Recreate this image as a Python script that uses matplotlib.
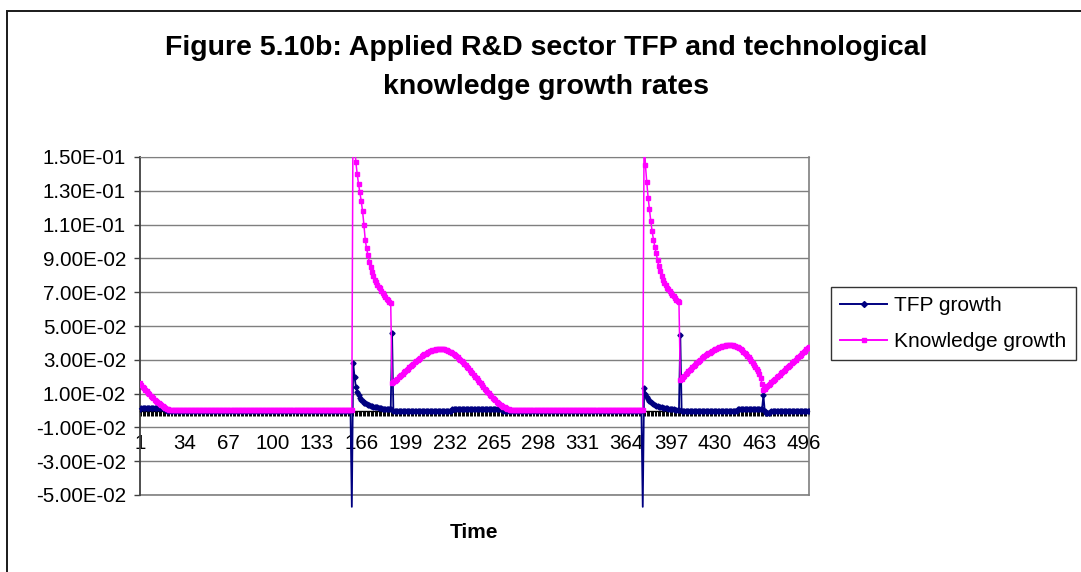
import matplotlib
matplotlib.use("Agg")
import matplotlib.pyplot as plt
from matplotlib.patches import Rectangle
from matplotlib.lines import Line2D
from matplotlib.ticker import FuncFormatter

plt.rcParams['font.family'] = ['Liberation Sans', 'DejaVu Sans']

# ---------------- data ----------------
time = list(range(1, 501))
label_step = 33
y_ticks = [-0.05, -0.03, -0.01, 0.01, 0.03, 0.05, 0.07, 0.09, 0.11, 0.13, 0.15]

# Knowledge growth
k_init = [0.0160, 0.0150, 0.0140, 0.0131, 0.0122, 0.0113, 0.0104, 0.0096, 0.0088, 0.0080,
          0.0072, 0.0064, 0.0057, 0.0050, 0.0043, 0.0037, 0.0031, 0.0025, 0.0020, 0.0015,
          0.0010, 0.0006]                                   # t 1..22
k_flat1 = [0.0004] * 137                                    # t 23..159
k_burst1 = [0.200, 0.160, 0.147, 0.140, 0.134, 0.129, 0.124, 0.118, 0.110, 0.101,
            0.096, 0.092, 0.088, 0.085, 0.082, 0.0795, 0.0775, 0.0760, 0.0745, 0.0733,
            0.0722, 0.0710, 0.0697, 0.0684, 0.0672, 0.0662, 0.0652, 0.0643, 0.0634]  # t 160..188
k_wave1 = [0.0161, 0.0168, 0.0175, 0.0182, 0.0189, 0.0196, 0.0203, 0.0210, 0.0218, 0.0225,
           0.0232, 0.0240, 0.0248, 0.0256, 0.0264, 0.0271, 0.0278, 0.0285, 0.0292, 0.0299,
           0.0306, 0.0313, 0.0320, 0.0326, 0.0332, 0.0337, 0.0342, 0.0346, 0.0350, 0.0353,
           0.0356, 0.0358, 0.0360, 0.0361, 0.0362, 0.0363, 0.0363, 0.0363, 0.0362, 0.0361,
           0.0359, 0.0356, 0.0353, 0.0349, 0.0344, 0.0339, 0.0333, 0.0327, 0.0321, 0.0314,
           0.0307, 0.0300, 0.0293, 0.0286, 0.0277, 0.0268, 0.0259, 0.0250, 0.0240, 0.0230,
           0.0220, 0.0210, 0.0200, 0.0190, 0.0180, 0.0170, 0.0160, 0.0150, 0.0140, 0.0130,
           0.0120, 0.0111, 0.0102, 0.0093, 0.0084, 0.0076, 0.0068, 0.0060, 0.0053, 0.0046,
           0.0040, 0.0034, 0.0028, 0.0023, 0.0018, 0.0014, 0.0010, 0.0007, 0.0005]  # t 189..277
k_flat2 = [0.0004] * 99                                     # t 278..376
k_burst2 = [0.165, 0.145, 0.135, 0.126, 0.119, 0.112, 0.106, 0.101, 0.097, 0.093,
            0.089, 0.0855, 0.0825, 0.0797, 0.0773, 0.0755, 0.0740, 0.0727, 0.0716, 0.0706,
            0.0696, 0.0686, 0.0676, 0.0666, 0.0656, 0.0647, 0.0640]  # t 377..403
k_wave2 = [0.0180, 0.0189, 0.0198, 0.0207, 0.0216, 0.0224, 0.0232, 0.0240, 0.0248, 0.0256,
           0.0264, 0.0272, 0.0280, 0.0287, 0.0294, 0.0301, 0.0308, 0.0315, 0.0321, 0.0327,
           0.0333, 0.0338, 0.0343, 0.0348, 0.0353, 0.0358, 0.0362, 0.0366, 0.0370, 0.0373,
           0.0376, 0.0379, 0.0381, 0.0383, 0.0385, 0.0386, 0.0387, 0.0388, 0.0387, 0.0386,
           0.0384, 0.0381, 0.0377, 0.0373, 0.0368, 0.0362, 0.0356, 0.0349, 0.0341, 0.0333,
           0.0324, 0.0314, 0.0304, 0.0294, 0.0283, 0.0272, 0.0260, 0.0247, 0.0232, 0.0215,
           0.0190, 0.0155, 0.0121]                          # t 404..466
k_rise = [0.0129, 0.0137, 0.0144, 0.0150, 0.0159, 0.0166, 0.0173, 0.0181, 0.0188, 0.0196,
          0.0204, 0.0210, 0.0219, 0.0226, 0.0234, 0.0240, 0.0249, 0.0256, 0.0263, 0.0271,
          0.0279, 0.0286, 0.0293, 0.0301, 0.0309, 0.0316, 0.0323, 0.0331, 0.0339, 0.0346,
          0.0353, 0.0361, 0.0369, 0.0377]                   # t 467..500
knowledge_growth = k_init + k_flat1 + k_burst1 + k_wave1 + k_flat2 + k_burst2 + k_wave2 + k_rise

# TFP growth
tfp_init = [0.0010] + [0.0013] * 17 + [0.0010, 0.0006]      # t 1..20
tfp_flat1 = [0.0] * 138                                     # t 21..158
tfp_burst1 = [-0.057, 0.0283, 0.0200, 0.0141, 0.0110, 0.0090, 0.0075, 0.0063, 0.0054, 0.0047,
              0.0042, 0.0037, 0.0033, 0.0030, 0.0027, 0.0025, 0.0023, 0.0022, 0.0020, 0.0018,
              0.0016, 0.0014, 0.0012, 0.0011, 0.0010, 0.0009, 0.0008, 0.0007, 0.0007, 0.0006,
              0.0460]                                       # t 159..189
tfp_flat2 = [-0.0002] * 44                                  # t 190..233
tfp_step1 = [0.0010] * 38                                   # t 234..271
tfp_flat3 = [-0.0002] * 104                                 # t 272..375
tfp_burst2 = [-0.057, 0.0131, 0.0100, 0.0082, 0.0068, 0.0058, 0.0050, 0.0043, 0.0038, 0.0033,
              0.0029, 0.0026, 0.0023, 0.0021, 0.0019, 0.0017, 0.0015, 0.0013, 0.0012, 0.0010,
              0.0009, 0.0008, 0.0007, 0.0006, 0.0005, 0.0004, 0.0004, 0.0003, 0.0447]  # t 376..404
tfp_flat4 = [-0.0002] * 42                                  # t 405..446
tfp_step2 = [0.0010] * 19                                   # t 447..465
tfp_blip = [0.0092, -0.0005, -0.0012, -0.0017, -0.0012, -0.0006]  # t 466..471
tfp_flat5 = [-0.0002] * 29                                  # t 472..500
tfp_growth = (tfp_init + tfp_flat1 + tfp_burst1 + tfp_flat2 + tfp_step1 + tfp_flat3
              + tfp_burst2 + tfp_flat4 + tfp_step2 + tfp_blip + tfp_flat5)

series_names = ["TFP growth", "Knowledge growth"]
title = "Figure 5.10b: Applied R&D sector TFP and technological\nknowledge growth rates"
x_label = "Time"

# ---------------- figure ----------------
W, H = 1081, 572
fig = plt.figure(figsize=(W / 100, H / 100), dpi=100)
fig.patch.set_facecolor('white')

# outer chart border (runs off the right/bottom edge)
fig.patches.append(Rectangle((7 / W, -0.1), 1.2, 1.1 - 11 / H, transform=fig.transFigure,
                             fill=False, edgecolor='#1a1a1a', linewidth=1.4))

ax = fig.add_axes([140 / W, 1 - 495 / H, (809 - 140) / W, (495 - 157) / H])
navy = '#000080'
magenta = '#FF00FF'
grid_grey = '#7f7f7f'

# TFP: line may run a little past the plot bottom (as in the source), markers clipped
ax.plot(time, tfp_growth, color=navy, lw=1.3, clip_on=False, zorder=3)
ax.plot(time, tfp_growth, ls='none', marker='D', ms=2.6, mec=navy, mfc=navy, zorder=3)
ax.plot(time, knowledge_growth, color=magenta, lw=1.1, marker='s', ms=2.4, mec=magenta,
        mfc=magenta, zorder=4)

ax.set_xlim(1, 500)
ax.set_ylim(-0.05, 0.15)

ax.set_yticks(y_ticks)
ax.yaxis.set_major_formatter(FuncFormatter(lambda v, p: f"{v:.2E}"))
ax.yaxis.grid(True, color=grid_grey, lw=1.0)
ax.set_axisbelow(True)
ax.axhline(-0.05, color=grid_grey, lw=1.2, clip_on=False, zorder=1)

major = time[::label_step]
ax.set_xticks(major)
ax.set_xticklabels([str(t) for t in major])
ax.set_xticks(time, minor=True)

ax.spines['bottom'].set_position(('data', 0))
ax.spines['bottom'].set_color('black')
ax.spines['bottom'].set_linewidth(1.0)
ax.spines['left'].set_color('#404040')
ax.spines['left'].set_linewidth(1.3)
ax.spines['right'].set_color(grid_grey)
ax.spines['right'].set_linewidth(1.2)
ax.spines['top'].set_color(grid_grey)

ax.tick_params(axis='y', direction='out', length=4, width=1, color='#404040',
               labelsize=14.8, pad=6)
ax.tick_params(axis='x', which='both', direction='out', length=3.6, width=0.7,
               color='black', labelsize=14.8, pad=13)

fig.text(546 / W, 1 - 67.5 / H, title, ha='center', va='center', fontsize=20.5,
         fontweight='bold', linespacing=1.65)
fig.text(474 / W, 1 - 533 / H, x_label, ha='center', va='center', fontsize=15,
         fontweight='bold')

handles = [Line2D([], [], color=navy, lw=1.4, marker='D', ms=3, mec=navy, mfc=navy),
           Line2D([], [], color=magenta, lw=1.4, marker='s', ms=2.5, mec=magenta, mfc=magenta)]
leg = fig.legend(handles, series_names, loc='upper left',
                 bbox_to_anchor=(831 / W, 1 - 287 / H), bbox_transform=fig.transFigure,
                 fontsize=15, frameon=True, fancybox=False, edgecolor='black',
                 borderpad=0.45, handlelength=2.25, handletextpad=0.33, labelspacing=0.8,
                 borderaxespad=0, numpoints=1)
leg.get_frame().set_linewidth(1.0)

fig.savefig("out.png", dpi=100, facecolor='white')
